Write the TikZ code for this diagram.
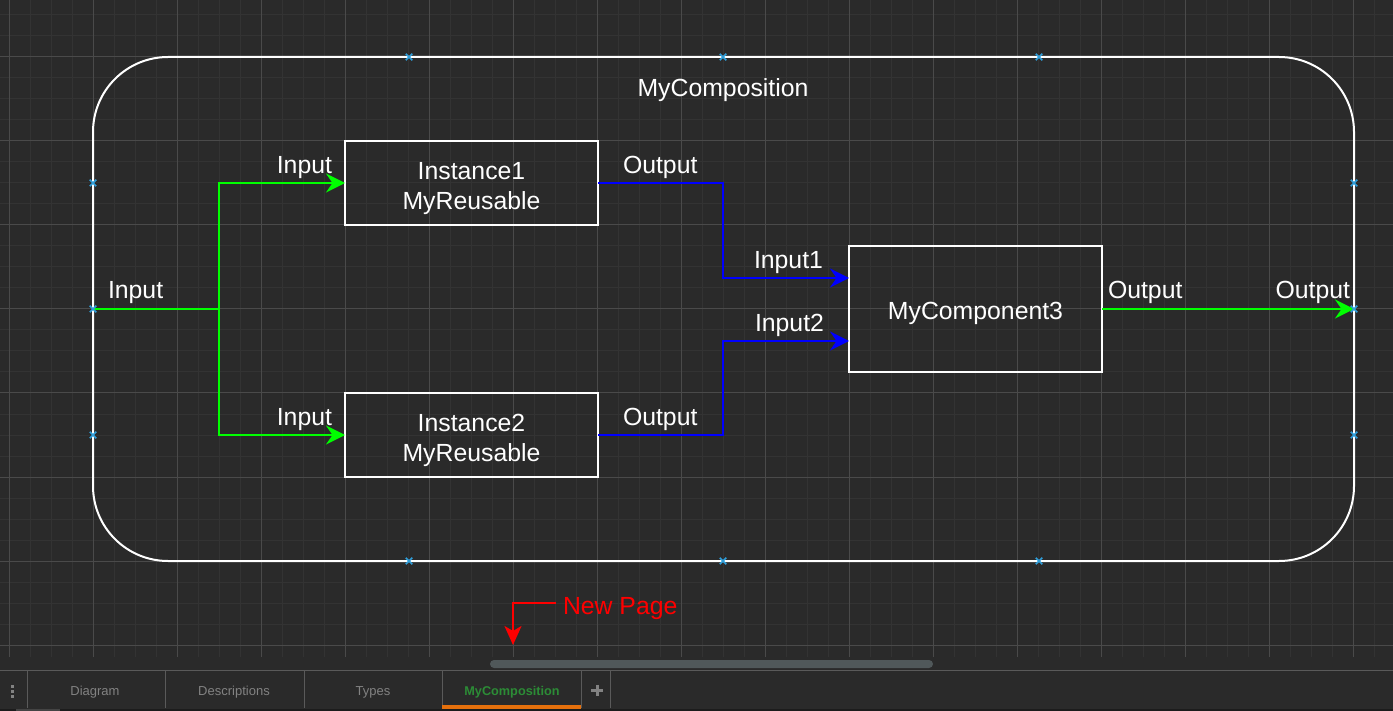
\documentclass[tikz,border=0pt]{standalone}
\usepackage{fontspec}
\setmainfont{Liberation Sans}
\usetikzlibrary{arrows.meta,shapes.misc,calc}
\definecolor{bgc}{HTML}{2A2A2A}
\definecolor{gminorc}{HTML}{333333}
\definecolor{gmajorc}{HTML}{4A4A4A}
\definecolor{gline}{HTML}{00FF00}
\definecolor{bline}{HTML}{0000FF}
\definecolor{rline}{HTML}{FF0000}
\definecolor{markc}{HTML}{2F9FDB}
\definecolor{tabtxt}{HTML}{828282}
\definecolor{tabgreen}{HTML}{2C8C36}
\definecolor{taborange}{HTML}{E5700C}
\definecolor{sepc}{HTML}{5A5A5A}
\definecolor{scrollc}{HTML}{50585A}
\definecolor{stripc}{HTML}{1C1C1C}
\definecolor{stripl}{HTML}{444444}
\begin{document}
\begin{tikzpicture}[x=1pt,y=-1pt,
  lbl/.style={text=white,font=\fontsize{24.8}{30}\selectfont,inner sep=0pt,outer sep=0pt},
  box/.style={draw=white,line width=2pt,inner sep=0pt,outer sep=0pt,minimum width=253pt},
  wire/.style={line width=2.2pt},
  tipa/.style={-{Stealth[length=19pt,width=19pt,inset=6.5pt]}},
  gminor/.style={draw=gminorc,line width=1pt},
  gmajor/.style={draw=gmajorc,line width=1pt},
  xmark/.style={cross out,draw=markc,line width=1.5pt,minimum size=6.5pt,inner sep=0pt,outer sep=0pt},
  tabl/.style={text=tabtxt,font=\fontsize{13}{15}\selectfont,inner sep=0pt}]
\useasboundingbox (0,0) rectangle (1393,711);
\fill[bgc] (0,0) rectangle (1393,711);
% grid
\foreach \x in {9,30,...,1395} \draw[gminor] (\x,0) -- (\x,657);
\foreach \y in {15,36,...,645} \draw[gminor] (0,\y) -- (1393,\y);
\foreach \x in {9,93,...,1353} \draw[gmajor] (\x,0) -- (\x,657);
\foreach \y in {57,141,...,645} \draw[gmajor] (0,\y) -- (1393,\y);
% composition
\node[draw=white,line width=2pt,rounded corners=75pt,minimum width=1261pt,minimum height=504pt,inner sep=0pt,outer sep=0pt] (comp) at (723.5,309) {};
\node[lbl,anchor=base] (title) at (723,97) {MyComposition};
% boxes
\node[box,minimum height=84pt] (i1) at (471.5,183) {};
\node[box,minimum height=84pt] (i2) at (471.5,435) {};
\node[box,minimum height=126pt] (c3) at (975.5,309) {};
\node[lbl,align=center,anchor=north] (i1t) at (471.5,162.5) {Instance1\\MyReusable};
\node[lbl,align=center,anchor=north] (i2t) at (471.5,414.5) {Instance2\\MyReusable};
\node[lbl,anchor=base] (c3t) at (975.5,319.3) {MyComponent3};
% connectors
\coordinate (j) at (219,309);
\coordinate (c3a) at (849,278);
\coordinate (c3b) at (849,341);
\coordinate (ka) at (723,183);
\coordinate (kb) at (723,435);
\draw[wire,gline] (comp.west) -- (j);
\draw[wire,gline,tipa] (j) |- (i1.west);
\draw[wire,gline,tipa] (j) |- (i2.west);
\draw[wire,bline,tipa] (i1.east) -- (ka) |- (c3a);
\draw[wire,bline,tipa] (i2.east) -- (kb) |- (c3b);
\draw[wire,gline,tipa] (c3.east) -- (comp.east);
% connector labels
\node[lbl,anchor=base west] (l1) at (108,299) {Input};
\node[lbl,anchor=base east] (l2) at (332,173.5) {Input};
\node[lbl,anchor=base east] (l3) at (332,425.5) {Input};
\node[lbl,anchor=base west] (l4) at (623,173.5) {Output};
\node[lbl,anchor=base west] (l5) at (623,425.5) {Output};
\node[lbl,anchor=base west] (l6) at (754,268.5) {Input1};
\node[lbl,anchor=base west] (l7) at (755,331.5) {Input2};
\node[lbl,anchor=base west] (l8) at (1108,299) {Output};
\node[lbl,anchor=base east] (l9) at (1350,299) {Output};
% connection markers
\foreach \p [count=\i] in {(409,57),(723,57),(1039,57),(409,561),(723,561),(1039,561),(93,183),(93,309),(93,435),(1354,183),(1354,309),(1354,435)}
  \node[xmark] (mk\i) at \p {};
% New Page annotation
\node[lbl,text=rline,anchor=base west] (np) at (563,614) {New Page};
\coordinate (npa) at (556,603);
\coordinate (npb) at (513,645);
\draw[wire,rline,-{Stealth[length=19pt,width=17pt,inset=5pt]}] (npa) -| (npb);
% scrollbar
\fill[scrollc,rounded corners=4pt] (490,660) rectangle (933,668);
% tab bar
\draw[sepc,line width=1pt] (0,670.5) -- (1393,670.5);
\foreach \x in {27,165,304,442,581,610} \draw[sepc,line width=1pt] (\x,670.5) -- (\x,708);
\fill[taborange] (442,705) rectangle (581,708.5);
\fill[stripc] (0,708.5) rectangle (1393,711);
\fill[stripl] (16,708.5) rectangle (60,711);
\foreach \y in {686,691,696} \fill[tabtxt] (10.5,\y-1.5) rectangle (13.5,\y+1.5);
\node[tabl,anchor=base] (t1) at (95,695) {Diagram};
\node[tabl,anchor=base] (t2) at (234,695) {Descriptions};
\node[tabl,anchor=base] (t3) at (373,695) {Types};
\node[tabl,anchor=base,text=tabgreen,font=\fontsize{12.7}{15}\bfseries] (t4) at (512,695) {MyComposition};
\draw[tabtxt,line width=3pt] (591,690) -- (603,690) (597,684.5) -- (597,695.5);
\end{tikzpicture}
\end{document}
